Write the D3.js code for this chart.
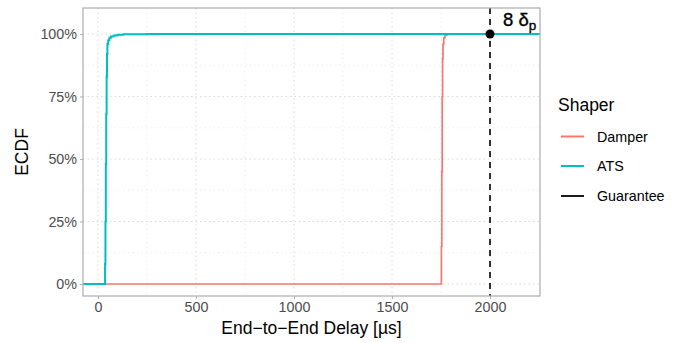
<!DOCTYPE html>
<html>
<head>
<meta charset="utf-8">
<script src="https://cdn.jsdelivr.net/npm/d3@7"></script>
<style>
  body { margin: 0; background: #fff; }
  text { font-family: "Liberation Sans", Arial, sans-serif; }
</style>
</head>
<body>
<svg id="chart" width="682" height="343"></svg>
<script>
// ---- data ----
const seriesNames = ["Damper", "ATS", "Guarantee"];
const seriesColors = ["#F8766D", "#00BFC4", "#000000"];
const atsDelay = [34, 36, 38, 40, 42, 44, 46, 48, 52, 58, 66, 80, 100, 130, 170, 250];
const atsEcdf  = [0, 0.08, 0.25, 0.48, 0.68, 0.83, 0.92, 0.96, 0.975, 0.985, 0.99, 0.994, 0.997, 0.999, 0.9995, 1];
const damperDelay = [1750, 1752, 1754, 1756, 1758, 1760, 1764, 1770, 1780, 1795];
const damperEcdf  = [0, 0.15, 0.45, 0.75, 0.9, 0.96, 0.985, 0.995, 0.999, 1];
const guaranteeDelay = 2000;
const xTicks = [0, 500, 1000, 1500, 2000];
const yTicks = [0, 0.25, 0.5, 0.75, 1];
const xMinorTicks = [250, 750, 1250, 1750];
const yMinorTicks = [0.125, 0.375, 0.625, 0.875];

// ---- layout ----
const svg = d3.select("#chart");
const pL = 83, pR = 540, pT = 8, pB = 296;
const x = d3.scaleLinear().domain([-76.5, 2255]).range([pL, pR]);
const y = d3.scaleLinear().domain([-0.048, 1.104]).range([pB, pT]);

const g = svg.append("g");

// grid
const gridColor = "#DADADA";
g.selectAll(".xminor").data(xMinorTicks).join("line")
  .attr("x1", d => x(d)).attr("x2", d => x(d)).attr("y1", pT).attr("y2", pB)
  .attr("stroke", "#EBEBEB").attr("stroke-width", 0.8).attr("stroke-dasharray", "1.5,3");
g.selectAll(".yminor").data(yMinorTicks).join("line")
  .attr("y1", d => y(d)).attr("y2", d => y(d)).attr("x1", pL).attr("x2", pR)
  .attr("stroke", "#EBEBEB").attr("stroke-width", 0.8).attr("stroke-dasharray", "1.5,3");
g.selectAll(".xmajor").data(xTicks).join("line")
  .attr("x1", d => x(d)).attr("x2", d => x(d)).attr("y1", pT).attr("y2", pB)
  .attr("stroke", gridColor).attr("stroke-width", 1).attr("stroke-dasharray", "1.5,3");
g.selectAll(".ymajor").data(yTicks).join("line")
  .attr("y1", d => y(d)).attr("y2", d => y(d)).attr("x1", pL).attr("x2", pR)
  .attr("stroke", gridColor).attr("stroke-width", 1).attr("stroke-dasharray", "1.5,3");

// clip
svg.append("clipPath").attr("id", "clip").append("rect")
  .attr("x", pL).attr("y", pT).attr("width", pR - pL).attr("height", pB - pT);
const plot = svg.append("g").attr("clip-path", "url(#clip)");

function stepPoints(delays, ecdf) {
  const pts = [[x.domain()[0] - 100, 0]];
  delays.forEach((d, i) => pts.push([d, ecdf[i]]));
  pts.push([x.domain()[1] + 100, 1]);
  return pts;
}
const line = d3.line().x(d => x(d[0])).y(d => y(d[1])).curve(d3.curveStepAfter);

plot.append("path").datum(stepPoints(damperDelay, damperEcdf))
  .attr("d", line).attr("fill", "none").attr("stroke", seriesColors[0]).attr("stroke-width", 1.7);
plot.append("path").datum(stepPoints(atsDelay, atsEcdf))
  .attr("d", line).attr("fill", "none").attr("stroke", seriesColors[1]).attr("stroke-width", 2);

// guarantee
plot.append("line")
  .attr("x1", x(guaranteeDelay)).attr("x2", x(guaranteeDelay))
  .attr("y1", pT).attr("y2", pB)
  .attr("stroke", "#000").attr("stroke-width", 1.6).attr("stroke-dasharray", "6,5");
plot.append("circle").attr("cx", x(guaranteeDelay)).attr("cy", y(1)).attr("r", 4.5).attr("fill", "#000");

const lab = svg.append("text").attr("x", x(guaranteeDelay) + 13).attr("y", 26)
  .attr("font-size", 18.5).attr("fill", "#000")
  .attr("stroke", "#000").attr("stroke-width", 0.35);
lab.append("tspan").text("8 δ");
lab.append("tspan").attr("font-size", 13.5).attr("dy", 4).text("p");

// panel border
svg.append("rect").attr("x", pL).attr("y", pT).attr("width", pR - pL).attr("height", pB - pT)
  .attr("fill", "none").attr("stroke", "#B3B3B3").attr("stroke-width", 1.3);

// axes
const xAxis = d3.axisBottom(x).tickValues(xTicks).tickSize(3).tickPadding(3).tickFormat(d3.format("d"));
const xa = svg.append("g").attr("transform", `translate(0,${pB})`).call(xAxis);
const yAxis = d3.axisLeft(y).tickValues(yTicks).tickSize(3).tickPadding(3).tickFormat(d => Math.round(d * 100) + "%");
const ya = svg.append("g").attr("transform", `translate(${pL},0)`).call(yAxis);
[xa, ya].forEach(a => {
  a.select(".domain").remove();
  a.selectAll(".tick line").attr("stroke", "#B3B3B3").attr("stroke-width", 1.1);
  a.selectAll(".tick text").attr("fill", "#4D4D4D").attr("font-size", 14.3)
    .attr("font-family", "Liberation Sans, Arial, sans-serif");
});

// titles
svg.append("text").attr("x", (pL + pR) / 2).attr("y", 334).attr("text-anchor", "middle")
  .attr("font-size", 17.5).attr("fill", "#000").text("End\u2212to\u2212End Delay [\u00b5s]");
svg.append("text").attr("transform", `translate(28,${(pT + pB) / 2}) rotate(-90)`)
  .attr("text-anchor", "middle").attr("font-size", 17.5).attr("fill", "#000").text("ECDF");

// legend
const lg = svg.append("g");
lg.append("text").attr("x", 558).attr("y", 111).attr("font-size", 17.5).attr("fill", "#000").text("Shaper");
const legY = [136.5, 166, 196];
seriesNames.forEach((n, i) => {
  lg.append("line").attr("x1", 561).attr("x2", 584).attr("y1", legY[i]).attr("y2", legY[i])
    .attr("stroke", seriesColors[i]).attr("stroke-width", i === 2 ? 1.8 : 2);
  lg.append("text").attr("x", 597).attr("y", legY[i] + 5).attr("font-size", 14.3).attr("fill", "#000").text(n);
});
</script>
</body>
</html>
